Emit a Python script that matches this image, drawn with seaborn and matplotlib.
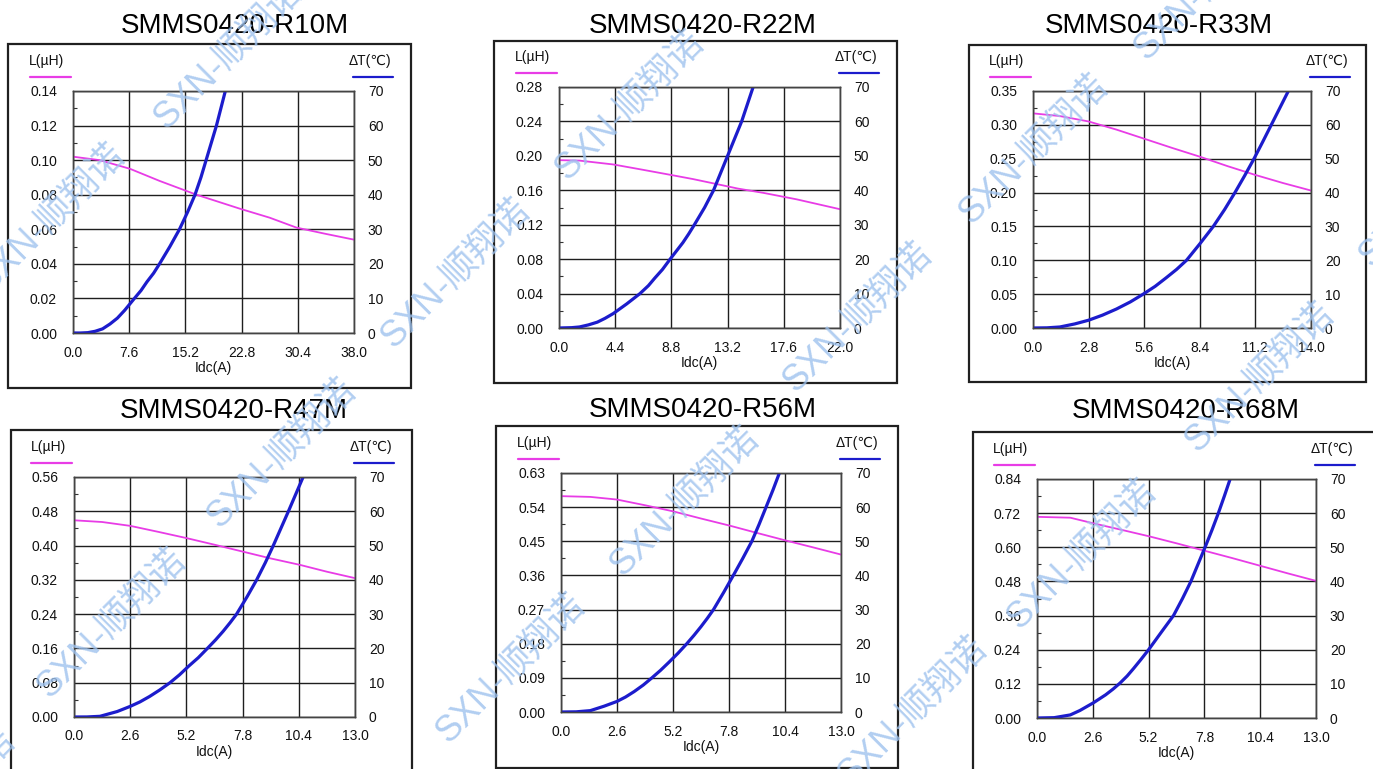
import numpy as np
import pandas as pd
import seaborn as sns
import matplotlib.pyplot as plt
from matplotlib.patches import Rectangle
from matplotlib.lines import Line2D
from matplotlib.ticker import AutoMinorLocator, FormatStrFormatter

# ---- data ----
titles = ['SMMS0420-R10M', 'SMMS0420-R22M', 'SMMS0420-R33M',
          'SMMS0420-R47M', 'SMMS0420-R56M', 'SMMS0420-R68M']
x_max = [38.0, 22.0, 14.0, 13.0, 13.0, 13.0]
L_max = [0.14, 0.28, 0.35, 0.56, 0.63, 0.84]
T_max = 70

# inductance curves (magenta)
L_idc_1 = [0, 3.6, 7.7, 11.7, 16.7, 22.5, 26.6, 30.2, 34.0, 38.0]
L_val_1 = [0.102, 0.100, 0.095, 0.088, 0.080, 0.072, 0.0667, 0.061, 0.0575, 0.054]
L_idc_2 = [0, 1.6, 4.25, 6.5, 8.7, 10.5, 12.1, 14.0, 16.0, 18.6, 22.0]
L_val_2 = [0.195, 0.1945, 0.190, 0.184, 0.178, 0.173, 0.168, 0.162, 0.157, 0.1495, 0.138]
L_idc_3 = [0, 1.35, 2.8, 4.2, 5.55, 7.0, 8.4, 9.8, 11.2, 12.6, 14.0]
L_val_3 = [0.317, 0.313, 0.305, 0.293, 0.280, 0.266, 0.253, 0.239, 0.226, 0.214, 0.203]
L_idc_4 = [0, 1.3, 2.6, 3.9, 5.2, 6.5, 7.8, 9.1, 10.45, 11.7, 13.0]
L_val_4 = [0.459, 0.455, 0.446, 0.432, 0.4175, 0.402, 0.386, 0.370, 0.355, 0.339, 0.324]
L_idc_5 = [0, 1.36, 2.6, 3.9, 5.2, 6.5, 7.85, 9.1, 10.4, 11.7, 13.0]
L_val_5 = [0.569, 0.567, 0.560, 0.545, 0.529, 0.510, 0.491, 0.472, 0.4526, 0.434, 0.415]
L_idc_6 = [0, 1.55, 2.64, 3.9, 5.2, 6.5, 7.8, 9.1, 10.4, 11.7, 13.0]
L_val_6 = [0.707, 0.704, 0.684, 0.662, 0.639, 0.614, 0.588, 0.562, 0.535, 0.508, 0.482]

# temperature rise curves (blue)
T_idc_1 = [0, 1.0, 2.0, 3.0, 4.0, 5.0, 6.0, 7.0, 8.3, 9.2, 10.0, 10.9, 11.7, 13.1,
           14.4, 15.5, 16.5, 17.3, 18.0, 18.7, 19.4, 20.0, 20.6]
T_val_1 = [0, 0, 0.1, 0.5, 1.2, 2.6, 4.3, 6.6, 10, 12.3, 14.8, 17.3, 20, 25,
           30, 35, 40, 45, 50, 55, 60, 65, 70]
T_idc_2 = [0, 1.0, 1.6, 2.3, 3.0, 3.6, 4.25, 5.3, 6.34, 7.0, 7.5, 8.1, 8.7, 9.2,
           9.7, 10.15, 10.6, 11.0, 11.4, 11.75, 12.1, 12.65, 13.2, 13.75, 14.3, 14.75, 15.2]
T_val_2 = [0, 0.1, 0.3, 0.9, 1.7, 2.8, 4.2, 7.0, 10, 12.3, 14.5, 17, 20, 22.4,
           24.8, 27.3, 30, 32.5, 35, 37.5, 40, 45, 50, 55, 60, 65, 70]
T_idc_3 = [0, 0.7, 1.35, 2.1, 2.8, 3.5, 4.2, 4.9, 5.55, 6.15, 6.7, 7.23, 7.73,
           8.42, 9.08, 9.65, 10.17, 10.66, 11.13, 11.57, 12.0, 12.43, 12.86]
T_val_3 = [0, 0.05, 0.3, 1.2, 2.3, 3.8, 5.6, 7.7, 10, 12.3, 14.8, 17.3, 20,
           25, 30, 35, 40, 45, 50, 55, 60, 65, 70]
T_idc_4 = [0, 0.6, 1.2, 2.0, 2.6, 3.05, 3.5, 3.97, 4.44, 4.88, 5.3, 5.75, 6.17,
           6.55, 6.9, 7.22, 7.52, 8.0, 8.45, 8.85, 9.22, 9.57, 9.92, 10.26, 10.6]
T_val_4 = [0, 0.02, 0.2, 1.6, 3.1, 4.4, 6.0, 7.9, 10, 12.3, 14.8, 17.3, 20,
           22.5, 25, 27.5, 30, 35, 40, 45, 50, 55, 60, 65, 70]
T_idc_5 = [0, 0.7, 1.36, 2.0, 2.6, 3.0, 3.4, 3.82, 4.22, 4.62, 5.0, 5.43, 5.84,
           6.18, 6.5, 6.8, 7.08, 7.55, 8.0, 8.44, 8.86, 9.2, 9.52, 9.84, 10.14]
T_val_5 = [0, 0.05, 0.4, 1.7, 3.1, 4.4, 6.0, 7.9, 10, 12.2, 14.5, 17.2, 20,
           22.5, 25, 27.5, 30, 35, 40, 45, 50, 55, 60, 65, 70]
T_idc_6 = [0, 0.8, 1.55, 2.0, 2.64, 3.2, 3.55, 3.88, 4.2, 4.5, 4.85, 5.2, 5.5,
           5.8, 6.08, 6.36, 6.78, 7.17, 7.5, 7.83, 8.15, 8.45, 8.73, 9.0]
T_val_6 = [0, 0.1, 0.9, 2.2, 4.5, 6.8, 8.5, 10.3, 12.3, 14.5, 17.2, 20, 22.6,
           25.2, 27.6, 30, 35, 40, 45, 50, 55, 60, 65, 70]

L_idc = [L_idc_1, L_idc_2, L_idc_3, L_idc_4, L_idc_5, L_idc_6]
L_val = [L_val_1, L_val_2, L_val_3, L_val_4, L_val_5, L_val_6]
T_idc = [T_idc_1, T_idc_2, T_idc_3, T_idc_4, T_idc_5, T_idc_6]
T_val = [T_val_1, T_val_2, T_val_3, T_val_4, T_val_5, T_val_6]

# ---- layout (pixels, origin top-left) ----
W, H = 1373, 769
plot_px = [(73, 91, 354, 333), (559, 87, 840, 328), (1033, 91, 1311, 328),
           (74, 477, 355, 717), (561, 473, 841, 712), (1037, 479, 1316, 718)]
box_px = [(8, 44, 411, 388), (494, 41, 897, 383), (969, 45, 1366, 382),
          (11, 430, 412, 780), (496, 426, 898, 768), (973, 432, 1380, 780)]
title_px = [(235, 33), (703, 33), (1159, 33), (234, 418), (703, 417), (1186, 418)]
watermarks = [(229, 55), (51, 219), (456, 274), (630, 106), (858, 318), (1034, 150),
              (1209, -14), (1260, 378), (1434, 193), (282, 454), (112, 624), (-59, 804),
              (685, 502), (511, 669), (913, 712), (1082, 555)]

MAGENTA = '#e83ce6'
BLUE = '#1c1ccc'
GRID = '#1e1e1e'

sns.set_style("white")
plt.rcParams['font.family'] = ['Liberation Sans', 'DejaVu Sans', 'Noto Sans CJK SC']

fig = plt.figure(figsize=(W / 100, H / 100), dpi=100)
fig.patch.set_facecolor('white')


def fx(x):
    return x / W


def fy(y):
    return 1 - y / H


for i in range(6):
    x0, y0, x1, y1 = plot_px[i]
    bx0, by0, bx1, by1 = box_px[i]
    fig.add_artist(Rectangle((fx(bx0), fy(by1)), fx(bx1) - fx(bx0), fy(by0) - fy(by1),
                             transform=fig.transFigure, fill=False,
                             edgecolor='#202020', linewidth=1.6, zorder=0))

    ax = fig.add_axes([fx(x0), fy(y1), fx(x1) - fx(x0), fy(y0) - fy(y1)])
    ax2 = ax.twinx()

    df_L = pd.DataFrame({'Idc': L_idc[i], 'L': L_val[i]})
    df_T = pd.DataFrame({'Idc': T_idc[i], 'T': T_val[i]})
    sns.lineplot(data=df_L, x='Idc', y='L', ax=ax, color=MAGENTA, linewidth=1.3)
    sns.lineplot(data=df_T, x='Idc', y='T', ax=ax2, color=BLUE, linewidth=2.3)

    xm = x_max[i]
    lm = L_max[i]
    ax.set_xlim(0, xm)
    ax.set_ylim(0, lm)
    ax2.set_ylim(0, T_max)
    ax.set_xticks(np.linspace(0, xm, 6))
    ax.set_yticks(np.linspace(0, lm, 8))
    ax2.set_yticks(np.arange(0, T_max + 1, 10))
    ax.xaxis.set_major_formatter(FormatStrFormatter('%.1f'))
    ax.yaxis.set_major_formatter(FormatStrFormatter('%.2f'))
    ax.xaxis.set_minor_locator(AutoMinorLocator(2))
    ax.yaxis.set_minor_locator(AutoMinorLocator(2))

    ax.grid(True, which='major', color=GRID, linewidth=1.0)
    ax2.grid(False)
    ax.set_axisbelow(True)

    ax.tick_params(axis='x', which='major', length=0, pad=9, labelsize=10, colors='#111')
    ax.tick_params(axis='y', which='major', length=0, pad=11.5, labelsize=10, colors='#111')
    ax.tick_params(which='minor', direction='in', length=3, width=0.8, color='#333')
    ax2.tick_params(axis='y', which='major', length=0, pad=10, labelsize=10, colors='#111')

    for a in (ax, ax2):
        for s in a.spines.values():
            s.set_color('#444')
            s.set_linewidth(1.0)

    ax.set_xlabel('Idc(A)', fontsize=10, labelpad=1, color='#111')
    ax.set_ylabel('')
    ax2.set_ylabel('')

    # axis captions with colored underlines
    fig.text(fx(x0 - 26), fy(y0 - 30), 'L(µH)', ha='center', va='center', fontsize=10, color='#111')
    fig.add_artist(Line2D([fx(x0 - 43), fx(x0 - 2)], [fy(y0 - 14)] * 2,
                          transform=fig.transFigure, color=MAGENTA, linewidth=1.6))
    fig.text(fx(x1 + 16), fy(y0 - 30), 'ΔT(℃)', ha='center', va='center', fontsize=10, color='#111')
    fig.add_artist(Line2D([fx(x1 - 1), fx(x1 + 39)], [fy(y0 - 14)] * 2,
                          transform=fig.transFigure, color=BLUE, linewidth=1.6))

    tx, ty = title_px[i]
    fig.text(fx(tx), fy(ty), titles[i], ha='center', va='baseline', fontsize=20, color='black')

# watermarks
for cx, cy in watermarks:
    fig.text(fx(cx), fy(cy), 'SXN-顺翔诺', ha='center', va='center', rotation=45,
             rotation_mode='anchor', fontsize=26, color='#9ec2ee', alpha=0.8,
             family=['Liberation Sans', 'Noto Sans CJK SC'], zorder=20)

fig.savefig('out.png', dpi=100)
